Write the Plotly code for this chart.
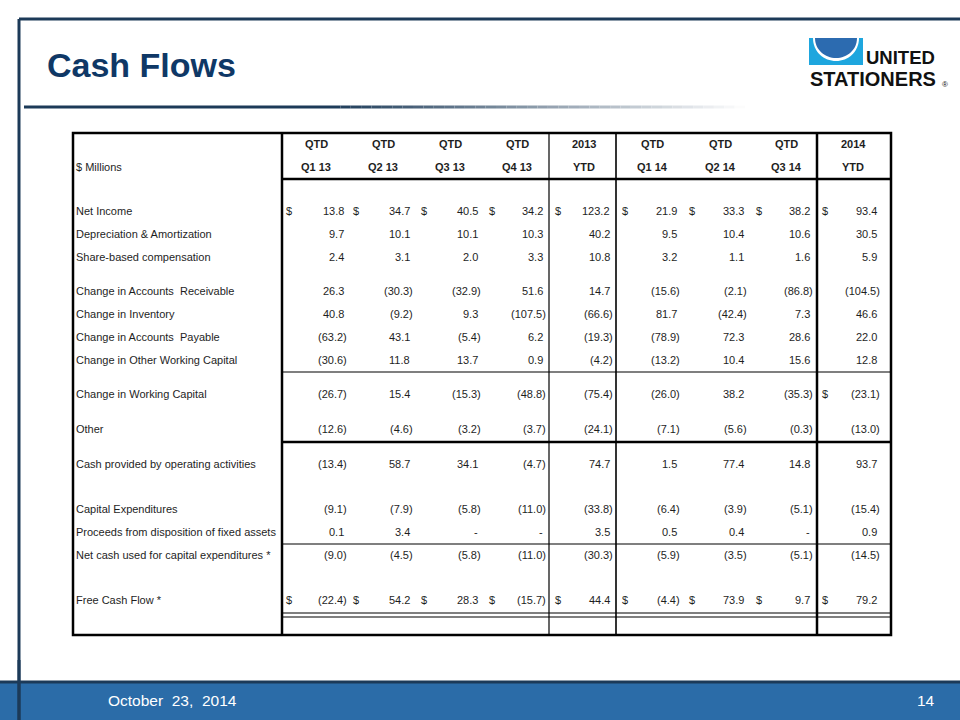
# Cash Flows slide - table of quarterly cash flow figures ($ millions)

import plotly.graph_objects as go

# column headers
head_top = ["QTD", "QTD", "QTD", "QTD", "2013", "QTD", "QTD", "QTD", "2014"]
head_bottom = ["Q1 13", "Q2 13", "Q3 13", "Q4 13", "YTD", "Q1 14", "Q2 14", "Q3 14", "YTD"]

# row labels
row_labels = [
    "Net Income",
    "Depreciation & Amortization",
    "Share-based compensation",
    "Change in Accounts  Receivable",
    "Change in Inventory",
    "Change in Accounts  Payable",
    "Change in Other Working Capital",
    "Change in Working Capital",
    "Other",
    "Cash provided by operating activities",
    "Capital Expenditures",
    "Proceeds from disposition of fixed assets",
    "Net cash used for capital expenditures *",
    "Free Cash Flow *",
]

# values, one list per row (None = "-")
net_income = [13.8, 34.7, 40.5, 34.2, 123.2, 21.9, 33.3, 38.2, 93.4]
dep_amort = [9.7, 10.1, 10.1, 10.3, 40.2, 9.5, 10.4, 10.6, 30.5]
share_comp = [2.4, 3.1, 2.0, 3.3, 10.8, 3.2, 1.1, 1.6, 5.9]
chg_receivable = [26.3, -30.3, -32.9, 51.6, 14.7, -15.6, -2.1, -86.8, -104.5]
chg_inventory = [40.8, -9.2, 9.3, -107.5, -66.6, 81.7, -42.4, 7.3, 46.6]
chg_payable = [-63.2, 43.1, -5.4, 6.2, -19.3, -78.9, 72.3, 28.6, 22.0]
chg_other_wc = [-30.6, 11.8, 13.7, 0.9, -4.2, -13.2, 10.4, 15.6, 12.8]
chg_wc = [-26.7, 15.4, -15.3, -48.8, -75.4, -26.0, 38.2, -35.3, -23.1]
other = [-12.6, -4.6, -3.2, -3.7, -24.1, -7.1, -5.6, -0.3, -13.0]
cash_ops = [-13.4, 58.7, 34.1, -4.7, 74.7, 1.5, 77.4, 14.8, 93.7]
capex = [-9.1, -7.9, -5.8, -11.0, -33.8, -6.4, -3.9, -5.1, -15.4]
proceeds = [0.1, 3.4, None, None, 3.5, 0.5, 0.4, None, 0.9]
net_capex = [-9.0, -4.5, -5.8, -11.0, -30.3, -5.9, -3.5, -5.1, -14.5]
free_cash = [-22.4, 54.2, 28.3, -15.7, 44.4, -4.4, 73.9, 9.7, 79.2]

rows = [net_income, dep_amort, share_comp, chg_receivable, chg_inventory,
        chg_payable, chg_other_wc, chg_wc, other, cash_ops, capex, proceeds,
        net_capex, free_cash]

# which columns carry a "$" sign, per row index
dollar_cols = {0: range(9), 7: [8], 13: range(9)}

# ---- layout (pixels) ----
W, H = 960, 720
row_y = [211, 234, 257, 291, 314, 337, 360, 394, 429, 464, 509, 532, 555, 600]
col_right = [349, 415, 483, 548, 615, 682, 749, 815, 882]
dollar_x = [289, 356, 424, 492, 558, 625, 692, 759, 825]
head_x = [316, 383, 450, 517, 584, 652, 720, 786, 853]

TXT = "#1e1e1e"
NAVY = "#0f3866"
FRAME = "#1c3a58"
FONT = "Liberation Sans, Arial, sans-serif"
BODY = 11


def fmt(v):
    if v is None:
        return "-"
    if v < 0:
        return "(%.1f)" % -v
    return "%.1f" % v


fig = go.Figure()
anns = []
shapes = []


def text(x, y, s, size=BODY, anchor="left", bold=False, color=TXT, xshift=0):
    anns.append(dict(x=x, y=y, text="<b>%s</b>" % s if bold else s, showarrow=False,
                     xanchor=anchor, yanchor="middle", xshift=xshift,
                     font=dict(size=size, color=color, family=FONT)))


def line(x0, y0, x1, y1, w=1, color="black"):
    shapes.append(dict(type="line", x0=x0, y0=y0, x1=x1, y1=y1,
                       line=dict(color=color, width=w)))


# slide frame
line(19, 19, W, 19, 3, FRAME)
line(19, 19, 19, H, 3, FRAME)

# title + rule with fading tail
text(45, 65, "Cash Flows", size=34, bold=True, color=NAVY)
line(24, 107, 330, 107, 3, FRAME)
n = 40
for i in range(n):
    t0 = (i + 0.5) / n
    c = [int(28 + (255 - 28) * t0), int(58 + (255 - 58) * t0), int(88 + (255 - 88) * t0)]
    line(330 + (745 - 330) * i / n, 107, 330 + (745 - 330) * (i + 1) / n, 107, 3,
         "rgb(%d,%d,%d)" % tuple(c))

# logo
shapes.append(dict(type="rect", x0=809, y0=38, x1=863, y1=65,
                   fillcolor="#1ea6de", line=dict(width=0)))
shapes.append(dict(type="path",
                   path="M 813 38 L 859 38 C 859 52 848 61 836 61 C 824 61 813 52 813 38 Z",
                   fillcolor="white", line=dict(width=0)))
shapes.append(dict(type="path",
                   path="M 815 38 L 857 38 C 857 50 847 58 836 58 C 825 58 815 50 815 38 Z",
                   fillcolor="#2c6bb0", line=dict(width=0)))
text(864, 57, "UNITED", size=18.5, bold=True, color="#111111")
text(808, 79, "STATIONERS", size=20, bold=True, color="#111111")
text(940, 84, "®", size=8, color="#111111")

# table borders
L, R, T, B = 73, 891, 133, 635
shapes.append(dict(type="rect", x0=L, y0=T, x1=R, y1=B, line=dict(color="black", width=2.5)))
line(282, T, 282, B, 2.5)
line(549, T, 549, B, 1.2)
line(616, T, 616, B, 1.6)
line(817, T, 817, B, 2.5)
line(282, 179, R, 179, 2.5)
line(282, 372, R, 372, 1.2)
line(282, 442, R, 442, 2.5)
line(282, 544, R, 544, 1.2)
line(282, 613, R, 613, 1.2)
line(282, 617, R, 617, 1.2)

# headers
for j in range(9):
    text(head_x[j], 144, head_top[j], anchor="center", bold=True)
    text(head_x[j], 167, head_bottom[j], anchor="center", bold=True)
text(74, 167, "$ Millions")

# body
for i, vals in enumerate(rows):
    text(74, row_y[i], row_labels[i])
    for j, v in enumerate(vals):
        shift = 0 if (v is not None and v < 0) else -3
        text(col_right[j], row_y[i], fmt(v), anchor="right", xshift=shift)
    for j in dollar_cols.get(i, []):
        text(dollar_x[j], row_y[i], "$", anchor="center")

# footer band
shapes.append(dict(type="rect", x0=0, y0=681, x1=W, y1=H,
                   fillcolor="#2b6ca8", line=dict(width=0), layer="below"))
line(0, 682, W, 682, 3, FRAME)
line(19, 660, 19, H, 3, FRAME)
text(106, 700, "October  23,  2014", size=15.5, color="white")
text(937, 700, "14", size=15.5, anchor="right", color="white")

fig.update_layout(
    width=W, height=H, margin=dict(l=0, r=0, t=0, b=0),
    paper_bgcolor="white", plot_bgcolor="white",
    xaxis=dict(range=[0, W], visible=False, fixedrange=True),
    yaxis=dict(range=[H, 0], visible=False, fixedrange=True),
    annotations=anns, shapes=shapes, showlegend=False,
)

fig.write_html("out.html", config={"displayModeBar": False},
               post_script="document.body.style.margin='0';")
